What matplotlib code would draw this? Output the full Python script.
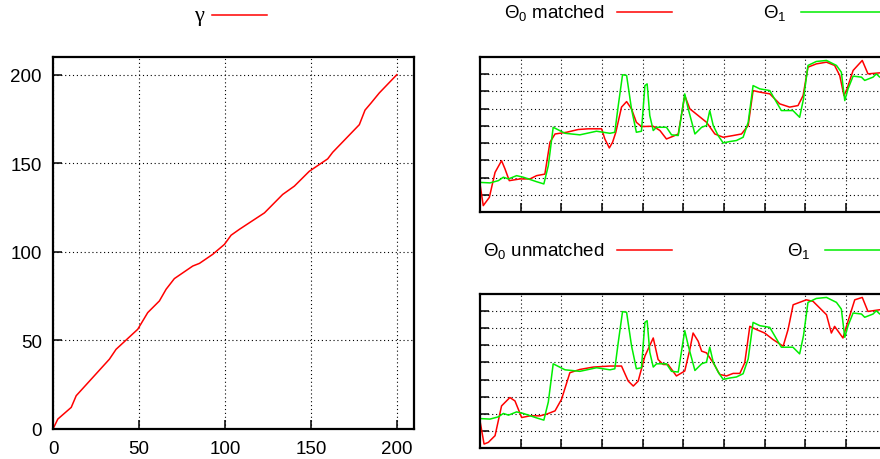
import numpy as np
import matplotlib
matplotlib.use("Agg")
import matplotlib.pyplot as plt
from matplotlib.lines import Line2D

plt.rcParams["font.family"] = ["Liberation Sans", "DejaVu Sans"]
plt.rcParams["mathtext.fontset"] = "custom"
plt.rcParams["mathtext.rm"] = "Liberation Sans"
plt.rcParams["mathtext.it"] = "Liberation Sans:italic"

# warping path gamma (index into theta_0 vs index into theta_1)
gamma_x = [0, 2.8, 10.6, 13.5, 32.8, 36.7, 49.3, 55.1, 61.9, 65.8, 70.6, 81.3,
           85.2, 92.9, 99.7, 103.6, 108.4, 114.2, 123, 133.6, 140.4, 149.1,
           159.8, 162.7, 178.2, 181.5, 185, 189.8, 200]
gamma_y = [0, 5.6, 12.2, 18.8, 39.4, 45, 56.3, 65.7, 72.3, 78.9, 84.9, 92,
           93.5, 98.6, 104.2, 109.4, 112.7, 116.4, 122, 132.4, 137.1, 145.5,
           152.5, 156.2, 171.8, 180, 184, 189.7, 200]

# theta_0 after warping
matched_x = [0, 1.6, 4.6, 7.4, 10.6, 12.3, 14.4, 19.7, 24.6, 27.8, 31.9, 34.4,
             36.9, 42.6, 48.3, 53.2, 59.8, 61.4, 63.6, 65.2, 66.8, 69.6, 72.1,
             74.5, 76.9, 79.4, 85.2, 88.5, 91.7, 95, 97.5, 100.7, 103.2, 107.3,
             111.4, 115.5, 119.6, 124.5, 128.6, 131.9, 134.3, 137.6, 142.5,
             147.4, 152.3, 156.4, 158.9, 161.3, 165.4, 170.4, 174.4, 176.9,
             179, 180.5, 183.5, 188, 190.8, 196.6, 200]
matched_y = [1.63, 0.37, 0.85, 2.3, 2.98, 2.5, 1.82, 1.92, 1.92, 2.11, 2.2, 4.05,
             4.53, 4.63, 4.79, 4.83, 4.83, 4.24, 3.72, 4.05, 4.63, 6.09, 6.41,
             5.99, 5.21, 4.96, 4.98, 4.73, 4.24, 4.4, 4.53, 6.76, 5.99, 5.6,
             5.21, 4.53, 4.34, 4.44, 4.53, 5.02, 7.05, 6.96, 6.86, 6.28, 6.09,
             6.18, 6.76, 8.41, 8.6, 8.7, 8.51, 7.93, 6.76, 7.15, 8.22, 8.8,
             8.02, 8.08, 8.1]

# theta_0 as recorded
unmatched_x = [0, 2, 4.1, 7.4, 10.6, 14.7, 17.2, 20.5, 24.6, 29.5, 32.8, 36.9,
               40.1, 44.2, 49.1, 55.7, 63.9, 69.6, 72.9, 75.4, 77.8, 81.1, 85.2,
               87.6, 90.1, 92.5, 96.6, 100.7, 103.2, 104.8, 107.3, 109, 111.4,
               114.7, 117.9, 121.2, 124.5, 127.8, 130.2, 132.7, 136, 140, 144.1,
               149.1, 151.5, 154, 160.5, 163.8, 170.4, 172.8, 174.4, 178.5,
               180.2, 184.3, 188, 190.8, 196.6, 200]
unmatched_y = [1.59, 0.23, 0.33, 0.72, 2.46, 2.95, 2.75, 1.78, 1.88, 1.88, 1.98,
               2.17, 2.85, 4.4, 4.59, 4.73, 4.79, 4.79, 3.91, 3.62, 3.91, 5.37,
               6.43, 5.17, 4.88, 4.88, 4.21, 4.5, 5.76, 6.72, 6.24, 5.66, 5.56,
               4.98, 4.3, 4.21, 4.36, 4.36, 4.98, 7.11, 6.92, 6.72, 6.34, 5.95,
               6.92, 8.37, 8.66, 8.57, 7.79, 6.72, 7.11, 6.43, 7.11, 8.66, 8.8,
               7.98, 8.08, 8.1]

# theta_1 reference signal
theta1_x = [0, 4.9, 9, 11.5, 14, 18, 21.3, 27.8, 31.4, 33.6, 36, 41.8, 49.1,
            57.3, 63.9, 66.3, 68, 70.1, 72.1, 74.5, 76.9, 79.4, 81.1, 82.2,
            83.5, 85.2, 86.8, 91.7, 94.2, 97.5, 100.7, 102.4, 105.7, 109, 111.4,
            113, 114.7, 117.1, 119.6, 122.8, 126.1, 129.4, 131.9, 134.3, 137.6,
            142.5, 148.2, 153.9, 157.2, 159.1, 161.3, 165.4, 170.4, 175.3,
            177.7, 179.4, 181, 183.5, 187.6, 189.2, 193.3, 194.9, 196.6, 200]
theta1_y = [1.72, 1.69, 1.82, 2.02, 1.92, 2.11, 2.02, 1.76, 1.63, 2.69, 4.92,
            4.57, 4.48, 4.69, 4.57, 4.63, 6.18, 7.97, 7.93, 5.99, 4.63, 4.69,
            7.34, 7.44, 5.6, 4.73, 4.92, 4.92, 4.48, 4.44, 6.86, 5.99, 4.53,
            4.92, 5.02, 5.89, 5.02, 4.44, 4.01, 4.09, 4.15, 4.34, 5.21, 7.34,
            7.15, 7.05, 5.89, 5.89, 5.5, 6.57, 8.51, 8.74, 8.8, 8.51, 8.12,
            6.47, 7.15, 7.89, 7.83, 7.64, 7.83, 8.02, 7.83, 7.9]

W, H = 880, 460
RED = "#ff0000"
GREEN = "#00ee00"
FS = 13.5


def px(x0, y0, x1, y1):
    # pixel box (left, top, right, bottom) -> figure rect
    return [x0 / W, 1 - y1 / H, (x1 - x0) / W, (y1 - y0) / H]


def key(fig, label, x_text, x0, x1, y, color, family=None, size=FS):
    fig.text(x_text / W, 1 - y / H, label, ha="right", va="center",
             fontsize=size, family=family)
    fig.add_artist(Line2D([x0 / W, x1 / W], [1 - y / H, 1 - y / H],
                          transform=fig.transFigure, color=color, lw=1.1))


def style(ax):
    for s in ax.spines.values():
        s.set_linewidth(1.6)
    ax.tick_params(direction="in", length=6.5, width=1.1, top=False, right=False)
    ax.grid(True, color="black", linestyle=(0, (1, 2.5)), linewidth=0.8)


fig = plt.figure(figsize=(W / 100, H / 100), dpi=100)

# left: warping path
ax = fig.add_axes(px(53, 58, 414, 430))
ax.plot(gamma_x, gamma_y, color=RED, lw=1.1)
ax.set_xlim(0, 210)
ax.set_ylim(0, 210)
ax.set_xticks(np.arange(0, 201, 50))
ax.set_yticks(np.arange(0, 201, 50))
style(ax)
ax.tick_params(labelsize=FS, pad=8)
key(fig, "γ", 204, 212, 267, 16, RED,
    family=["Liberation Serif", "DejaVu Serif"], size=16)

# right: signals, the axes run past the right edge of the canvas
panels = [
    (58, 213, matched_x, matched_y, "Θ$_0$ matched", 13, 787, 801, 856),
    (295, 449, unmatched_x, unmatched_y, "Θ$_0$ unmatched", 251, 811, 825, 880),
]
for top, bot, sx, sy, lab, ky, t1x, l1a, l1b in panels:
    ax = fig.add_axes(px(480, top, 480 + 427, bot))
    ax.plot(sx, sy, color=RED, lw=1.1)
    ax.plot(theta1_x, theta1_y, color=GREEN, lw=1.1)
    ax.set_xlim(0, 210)
    ax.set_ylim(0, 9)
    ax.set_xticks(np.arange(20, 201, 20))
    ax.set_yticks(np.arange(1, 9))
    style(ax)
    ax.tick_params(labelleft=False, labelbottom=False)
    key(fig, lab, 604, 617, 672, ky, RED)
    key(fig, "Θ$_1$", t1x, l1a, l1b + 30, ky, GREEN)

fig.savefig("out.png", dpi=100)
